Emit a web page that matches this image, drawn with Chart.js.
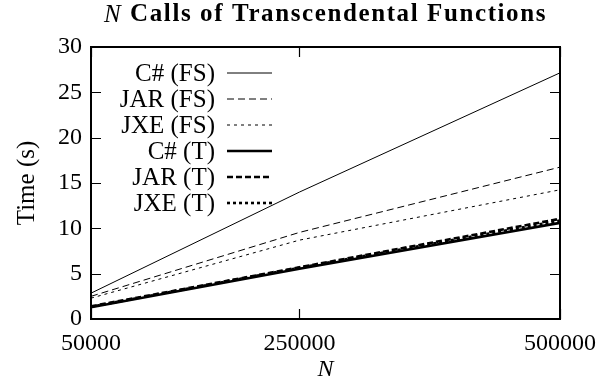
<!DOCTYPE html>
<html>
<head>
<meta charset="utf-8">
<script src="https://cdn.jsdelivr.net/npm/chart.js@4.4.1/dist/chart.umd.min.js"></script>
<style>
  html, body { margin: 0; padding: 0; background: #fff; }
  #wrap { width: 606px; height: 388px; }
</style>
</head>
<body>
<div id="wrap"><canvas id="chart" width="606" height="388"></canvas></div>
<script>
// N values (x) and measured times in seconds
const nValues = [50000, 250000, 500000];
const csharpFS = [2.85, 14.0, 27.15];
const jarFS = [2.5, 9.55, 16.75];
const jxeFS = [2.3, 8.7, 14.25];
const csharpT = [1.3, 5.55, 10.6];
const jarT = [1.4, 5.7, 11.05];
const jxeT = [1.35, 5.65, 10.85];

const seriesLabels = ["C# (FS)", "JAR (FS)", "JXE (FS)", "C# (T)", "JAR (T)", "JXE (T)"];
const xTickValues = [50000, 250000, 500000];
const yMin = 0;
const yMax = 30;
const yStep = 5;

const SERIF = "'Liberation Serif', 'Times New Roman', serif";

function points(ys) {
  return nValues.map((n, i) => ({ x: n, y: ys[i] }));
}

function series(label, ys, width, dash) {
  return {
    label,
    data: points(ys),
    borderColor: "#000",
    borderWidth: width,
    borderDash: dash,
    pointRadius: 0,
    fill: false,
    tension: 0
  };
}

// draws the frame, inward ticks, mixed-style title and the in-plot legend
const decorations = {
  id: "decorations",
  afterDraw(chart) {
    const { ctx, chartArea: a, scales } = chart;
    ctx.save();
    ctx.strokeStyle = "#000";
    ctx.lineWidth = 1.2;
    ctx.setLineDash([]);

    const tick = 10;
    ctx.beginPath();
    scales.y.ticks.forEach(t => {
      const py = Math.round(scales.y.getPixelForValue(t.value)) + 0.5;
      ctx.moveTo(a.left, py); ctx.lineTo(a.left + tick, py);
      ctx.moveTo(a.right, py); ctx.lineTo(a.right - tick, py);
    });
    scales.x.ticks.forEach(t => {
      const px = Math.round(scales.x.getPixelForValue(t.value)) + 0.5;
      ctx.moveTo(px, a.bottom); ctx.lineTo(px, a.bottom - tick);
      ctx.moveTo(px, a.top); ctx.lineTo(px, a.top + tick);
    });
    ctx.stroke();

    ctx.lineWidth = 2;
    ctx.strokeRect(a.left, a.top, a.right - a.left, a.bottom - a.top);

    // title: italic N followed by bold text
    const italicPart = "N";
    const boldPart = " Calls of Transcendental Functions";
    const italicFont = "italic 25px " + SERIF;
    const boldFont = "bold 25px " + SERIF;
    ctx.letterSpacing = "1.6px";
    ctx.textBaseline = "middle";
    ctx.fillStyle = "#000";
    ctx.font = italicFont;
    const w1 = ctx.measureText(italicPart).width;
    ctx.font = boldFont;
    const w2 = ctx.measureText(boldPart).width;
    const cx = (a.left + a.right) / 2;
    const tx = cx - (w1 + w2) / 2;
    ctx.textAlign = "left";
    ctx.font = italicFont;
    ctx.fillText(italicPart, tx, 15);
    ctx.font = boldFont;
    ctx.fillText(boldPart, tx + w1, 15);
    ctx.letterSpacing = "0px";

    // legend
    ctx.font = "25px " + SERIF;
    ctx.textAlign = "right";
    chart.data.datasets.forEach((ds, i) => {
      const ry = a.top + 26 + i * 26;
      ctx.fillText(ds.label, a.left + 124, ry + 1);
      ctx.lineWidth = ds.borderWidth;
      ctx.setLineDash(ds.borderDash || []);
      ctx.beginPath();
      ctx.moveTo(a.left + 136, ry);
      ctx.lineTo(a.left + 181, ry);
      ctx.stroke();
    });
    ctx.restore();
  }
};

const chart = new Chart(document.getElementById("chart"), {
  type: "line",
  data: {
    datasets: [
      series(seriesLabels[0], csharpFS, 1, []),
      series(seriesLabels[1], jarFS, 1, [7, 4]),
      series(seriesLabels[2], jxeFS, 1, [3, 4]),
      series(seriesLabels[3], csharpT, 2.6, []),
      series(seriesLabels[4], jarT, 2.6, [6, 3]),
      series(seriesLabels[5], jxeT, 2.6, [3, 3])
    ]
  },
  plugins: [decorations],
  options: {
    responsive: false,
    animation: false,
    layout: { padding: { left: 0, top: 47, right: 46, bottom: 0 } },
    plugins: {
      legend: { display: false },
      title: { display: false },
      tooltip: { enabled: false }
    },
    scales: {
      x: {
        type: "linear",
        min: 50000,
        max: 500000,
        afterBuildTicks: scale => {
          scale.ticks = xTickValues.map(v => ({ value: v }));
        },
        afterFit: scale => { scale.height = 69; },
        grid: { display: false, drawTicks: false },
        border: { display: false },
        ticks: {
          color: "#000",
          padding: 10,
          autoSkip: false,
          maxRotation: 0,
          font: { family: SERIF, size: 24 },
          callback: v => String(v)
        },
        title: {
          display: true,
          text: "N",
          color: "#000",
          padding: { top: 0, bottom: 4 },
          font: { family: SERIF, size: 24, style: "italic" }
        }
      },
      y: {
        min: yMin,
        max: yMax,
        afterFit: scale => { scale.width = 91; },
        grid: { display: false, drawTicks: false },
        border: { display: false },
        ticks: {
          color: "#000",
          stepSize: yStep,
          padding: 9,
          font: { family: SERIF, size: 24 }
        },
        title: {
          display: true,
          text: "Time (s)",
          color: "#000",
          padding: { top: 12, bottom: 0 },
          font: { family: SERIF, size: 25 }
        }
      }
    }
  }
});
</script>
</body>
</html>
